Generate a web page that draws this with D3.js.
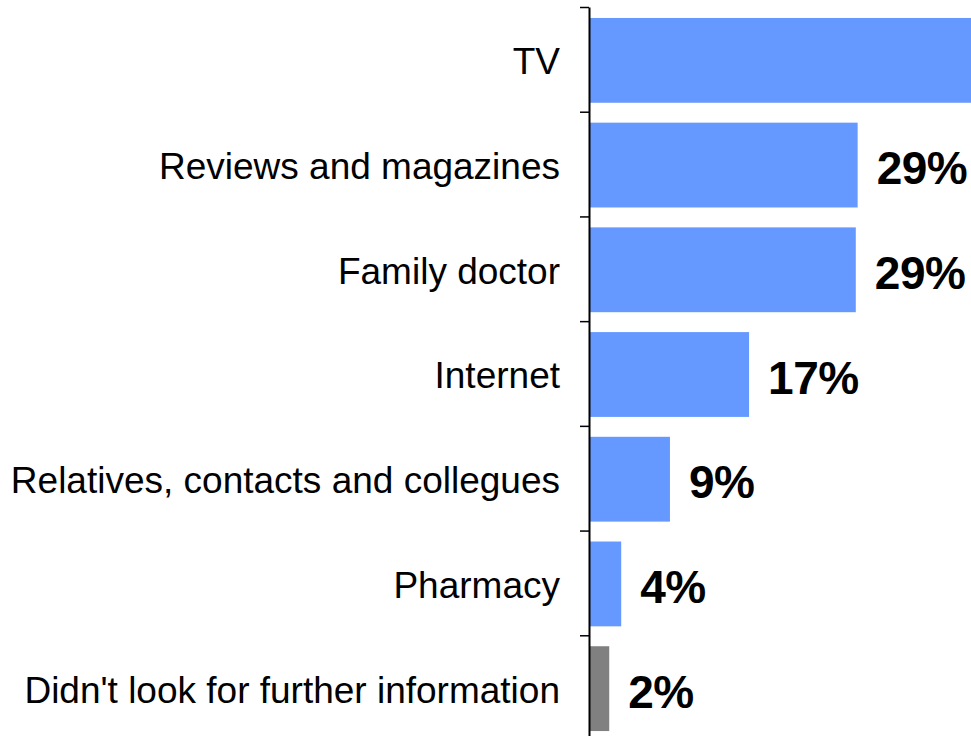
<!DOCTYPE html>
<html>
<head>
<meta charset="utf-8">
<script src="https://cdn.jsdelivr.net/npm/d3@7"></script>
<style>
  body { margin: 0; background: #fff; }
  svg { display: block; }
</style>
</head>
<body>
<div id="chart-area"></div>
<script>
// sources of further information, share of respondents (%)
var categories = ["TV", "Reviews and magazines", "Family doctor", "Internet",
  "Relatives, contacts and collegues", "Pharmacy", "Didn't look for further information"];
var values = [45, 29.2, 29.0, 17.4, 8.8, 3.5, 2.2];
var labels = ["45%", "29%", "29%", "17%", "9%", "4%", "2%"];
var colors = ["#6699ff", "#6699ff", "#6699ff", "#6699ff", "#6699ff", "#6699ff", "#808080"];

var width = 971, height = 736;
var x0 = 589;

var svg = d3.select("#chart-area").append("svg")
  .attr("width", width)
  .attr("height", height);

var x = d3.scaleLinear().domain([0, 10]).range([x0, x0 + 92]);

var y = d3.scaleBand()
  .domain(categories)
  .range([7, 740])
  .paddingInner(0.19)
  .paddingOuter(0.095);

// bars
svg.selectAll("rect.bar").data(values)
  .enter().append("rect")
  .attr("class", "bar")
  .attr("x", x(0) + 1)
  .attr("y", function(d, i) { return y(categories[i]) + 1; })
  .attr("width", function(d) { return x(d) - x(0) - 1; })
  .attr("height", y.bandwidth())
  .attr("fill", function(d, i) { return colors[i]; });

// value labels (the TV one falls outside the picture, as in the original)
svg.selectAll("text.value").data(values)
  .enter().append("text")
  .filter(function(d) { return x(d) + 19 < width - 60; })
  .attr("class", "value")
  .attr("x", function(d) { return x(d) + 19; })
  .attr("y", function(d) { return y(categories[values.indexOf(d)]) + y.bandwidth() / 2 + 4; })
  .attr("dy", "0.35em")
  .style("font-family", "Liberation Sans, Arial, sans-serif")
  .style("font-weight", "bold")
  .style("font-size", "46px")
  .style("letter-spacing", "-0.5px")
  .text(function(d) { return labels[values.indexOf(d)]; });

// category labels
svg.selectAll("text.cat").data(categories)
  .enter().append("text")
  .attr("class", "cat")
  .attr("x", 560)
  .attr("y", function(d) { return y(d) + y.bandwidth() / 2 + 2; })
  .attr("dy", "0.35em")
  .attr("text-anchor", "end")
  .style("font-family", "Liberation Sans, Arial, sans-serif")
  .style("font-size", "37px")
  .text(function(d) { return d; });

// axis with ticks between the bars
var yTicks = d3.scaleLinear().domain([0, categories.length]).range([7, 740]);
var axis = svg.append("g")
  .attr("transform", "translate(" + x0 + ",0)")
  .call(d3.axisLeft(yTicks).ticks(categories.length).tickSize(9).tickSizeOuter(0).tickFormat(""));
axis.select(".domain").attr("stroke", "#000").attr("stroke-width", 2);
axis.selectAll(".tick line").attr("stroke", "#000").attr("stroke-width", 1.5);
</script>
</body>
</html>
